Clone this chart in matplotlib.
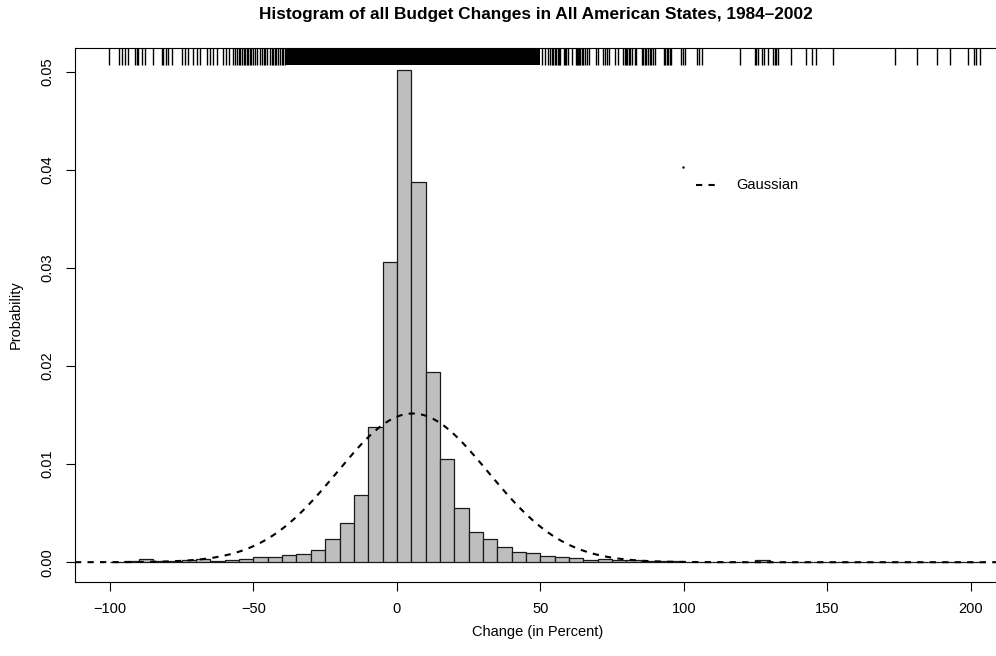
import numpy as np
import matplotlib
matplotlib.use("Agg")
import matplotlib.pyplot as plt
from matplotlib.transforms import blended_transform_factory

plt.rcParams['font.family'] = ['Liberation Sans', 'DejaVu Sans']

# histogram: left bin edges (width 5) and densities
bin_left = list(range(-100, 205, 5))
density = [0.00004, 0.00017, 0.00034, 0.00014, 0.00017, 0.00020, 0.00030, 0.00017,
           0.00027, 0.00037, 0.00058, 0.00058, 0.00075, 0.00085, 0.00126, 0.00238,
           0.00398, 0.00687, 0.01384, 0.03060, 0.05020, 0.03880, 0.01940, 0.01050,
           0.00557, 0.00306, 0.00235, 0.00159, 0.00108, 0.00092, 0.00061, 0.00054,
           0.00041, 0.00020, 0.00034, 0.00020, 0.00024, 0.00017, 0.00014, 0.00010,
           0.00007, 0.00007, 0.00000, 0.00003, 0.00003, 0.00027, 0.00007, 0.00003,
           0.00003, 0.00003, 0.00003, 0.00000, 0.00000, 0.00000, 0.00003, 0.00000,
           0.00003, 0.00003, 0.00003, 0.00003, 0.00007]
bin_width = 5

# fitted normal
gauss_mean = 5.5
gauss_sd = 26.3

# rug: single ticks outside the core, plus the solid dense core range
rug_ticks = [-100.3, -96.7, -95.9, -94.8, -93.8, -91.3, -90.7, -90.1, -89.0, -87.8,
             -84.9, -82.0, -81.4, -80.6, -79.7, -78.5, -75.0, -73.9, -72.7, -71.0,
             -69.8, -68.6, -66.3, -65.2, -64.0, -62.8, -60.7, -59.6, -58.4, -57.0,
             -56.3, -55.8, -55.2, -54.7, -54.0, -53.4, -52.9, -52.4, -51.8, -51.2,
             -50.7, -50.1, -49.5, -48.9, -47.6, -47.0, -46.4, -45.8, -45.3, -44.3,
             -43.7, -43.1, -42.5, -42.0, -41.4, -40.8, -40.2, -39.6, -39.0,
             50.5, 51.5, 52.5, 53.5, 54.0, 54.5, 55.0, 55.5, 56.0, 56.5, 57.0,
             58.2, 58.7, 59.1, 59.7, 60.9, 62.3, 62.7, 63.1, 63.5, 63.8, 64.4, 64.9,
             65.5, 66.1, 67.0, 69.3, 70.2, 71.9, 72.5, 73.1, 74.0, 76.0, 77.1,
             78.9, 79.4, 79.8, 80.3, 80.8, 81.2, 81.8, 82.9, 83.5, 85.3, 85.8, 86.4,
             87.0, 87.6, 88.2, 88.7, 89.3, 89.9, 93.0, 93.5, 94.0, 94.5, 95.1, 95.7,
             99.2, 99.8, 100.3, 104.6, 105.3, 106.2, 119.5, 124.7, 125.3, 125.9,
             127.1, 127.9, 129.4, 131.1, 131.7, 132.3, 132.9, 137.5, 142.5, 144.7,
             146.2, 152.0, 173.8, 181.4, 188.4, 192.7, 199.1, 201.0, 202.0, 203.1]
rug_dense = (-38.6, 50.0)

fig = plt.figure(figsize=(9.96, 6.56), dpi=100)
# the original is cropped on the right, so the axes run past the figure edge
ax = fig.add_axes([0.0753, 0.1128, 0.9488, 0.814])

ax.bar(bin_left, density, width=bin_width, align='edge', color='#bebebe',
       edgecolor='#1a1a1a', linewidth=0.9, zorder=2)

xs = np.linspace(-112.2, 217.2, 600)
ys = np.exp(-0.5 * ((xs - gauss_mean) / gauss_sd) ** 2) / (gauss_sd * np.sqrt(2 * np.pi))
ax.plot(xs, ys, color='black', lw=1.5, dashes=(3, 3), zorder=3)

trans = blended_transform_factory(ax.transData, ax.transAxes)
ax.vlines(rug_ticks, 0.969, 1.0, transform=trans, color='black', lw=1.0, zorder=4)
ax.fill_between(list(rug_dense), 0.969, 1.0, transform=trans, color='black',
                lw=0, zorder=4)

ax.set_xlim(-112.2, 217.2)
ax.set_ylim(-0.00202, 0.05245)
ax.set_xticks([-100, -50, 0, 50, 100, 150, 200])
ax.set_yticks([0.0, 0.01, 0.02, 0.03, 0.04, 0.05])
ax.set_yticklabels(['0.00', '0.01', '0.02', '0.03', '0.04', '0.05'],
                   rotation=90, va='center')
ax.tick_params(axis='both', direction='out', length=6.5, width=0.8,
               labelsize=10.5, pad=8)
for s in ax.spines.values():
    s.set_linewidth(0.8)

ax.set_xlabel('Change (in Percent)', fontsize=10.5)
ax.xaxis.set_label_coords(0.49, -0.08)
ax.set_ylabel('Probability', fontsize=10.5, labelpad=13)

# legend drawn by hand, no frame
ax.plot([0.643], [0.777], marker='.', ms=1.5, color='black', transform=ax.transAxes)
ax.plot([0.657, 0.680], [0.743, 0.743], color='black', lw=1.5, dashes=(3, 3),
        transform=ax.transAxes)
ax.text(0.700, 0.743, 'Gaussian', fontsize=10.5, va='center', ha='left',
        transform=ax.transAxes)

fig.text(0.538, 0.978, 'Histogram of all Budget Changes in All American States, 1984\u20132002',
         ha='center', va='center', fontsize=12.4, fontweight='bold')

fig.savefig('out.png', dpi=100)
